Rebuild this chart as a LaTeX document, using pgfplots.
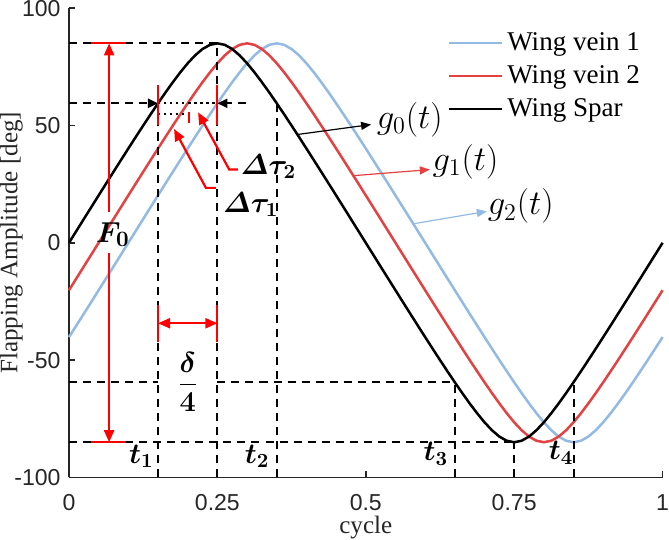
\documentclass[border=0pt]{standalone}
\usepackage{amsmath,bm}
\usepackage{fontspec}
\setmainfont{Liberation Serif}
\setsansfont{Liberation Sans}
\usepackage{pgfplots}
\pgfplotsset{compat=1.18}
\usepackage{pgfplotstable}
\usetikzlibrary{arrows.meta}
\definecolor{cblue}{RGB}{146,186,228}
\definecolor{cred}{RGB}{228,66,66}
\definecolor{ared}{RGB}{255,0,0}
\definecolor{axgray}{RGB}{38,38,38}
\pgfplotstableread{
x B R L
0 0 -20.21 -40.18
0.0125 5.06 -15.17 -35.23
0.025 10.12 -10.12 -30.24
0.0375 15.17 -5.06 -25.24
0.05 20.21 0 -20.21
0.0625 25.24 5.06 -15.17
0.075 30.24 10.12 -10.12
0.0875 35.23 15.17 -5.06
0.1 40.18 20.21 0
0.1125 45.10 25.24 5.06
0.125 49.96 30.24 10.12
0.1375 54.75 35.23 15.17
0.15 59.45 40.18 20.21
0.1625 64.04 45.10 25.24
0.175 68.45 49.96 30.24
0.1875 72.64 54.75 35.23
0.2 76.50 59.45 40.18
0.2125 79.88 64.04 45.10
0.225 82.59 68.45 49.96
0.2375 84.37 72.64 54.75
0.25 85.00 76.50 59.45
0.2625 84.37 79.88 64.04
0.275 82.59 82.59 68.45
0.2875 79.88 84.37 72.64
0.3 76.50 85.00 76.50
0.3125 72.64 84.37 79.88
0.325 68.45 82.59 82.59
0.3375 64.04 79.88 84.37
0.35 59.45 76.50 85.00
0.3625 54.75 72.64 84.37
0.375 49.96 68.45 82.59
0.3875 45.10 64.04 79.88
0.4 40.18 59.45 76.50
0.4125 35.23 54.75 72.64
0.425 30.24 49.96 68.45
0.4375 25.24 45.10 64.04
0.45 20.21 40.18 59.45
0.4625 15.17 35.23 54.75
0.475 10.12 30.24 49.96
0.4875 5.06 25.24 45.10
0.5 0 20.21 40.18
0.5125 -5.06 15.17 35.23
0.525 -10.12 10.12 30.24
0.5375 -15.17 5.06 25.24
0.55 -20.21 0 20.21
0.5625 -25.24 -5.06 15.17
0.575 -30.24 -10.12 10.12
0.5875 -35.23 -15.17 5.06
0.6 -40.18 -20.21 0
0.6125 -45.10 -25.24 -5.06
0.625 -49.96 -30.24 -10.12
0.6375 -54.75 -35.23 -15.17
0.65 -59.45 -40.18 -20.21
0.6625 -64.04 -45.10 -25.24
0.675 -68.45 -49.96 -30.24
0.6875 -72.64 -54.75 -35.23
0.7 -76.50 -59.45 -40.18
0.7125 -79.88 -64.04 -45.10
0.725 -82.59 -68.45 -49.96
0.7375 -84.37 -72.64 -54.75
0.75 -85.00 -76.50 -59.45
0.7625 -84.37 -79.88 -64.04
0.775 -82.59 -82.59 -68.45
0.7875 -79.88 -84.37 -72.64
0.8 -76.50 -85.00 -76.50
0.8125 -72.64 -84.37 -79.88
0.825 -68.45 -82.59 -82.59
0.8375 -64.04 -79.88 -84.37
0.85 -59.45 -76.50 -85.00
0.8625 -54.75 -72.64 -84.37
0.875 -49.96 -68.45 -82.59
0.8875 -45.10 -64.04 -79.88
0.9 -40.18 -59.45 -76.50
0.9125 -35.23 -54.75 -72.64
0.925 -30.24 -49.96 -68.45
0.9375 -25.24 -45.10 -64.04
0.95 -20.21 -40.18 -59.45
0.9625 -15.17 -35.23 -54.75
0.975 -10.12 -30.24 -49.96
0.9875 -5.06 -25.24 -45.10
1 0 -20.21 -40.18
}\data
\begin{document}
\begin{tikzpicture}[
  dsh/.style={black, line width=1pt, dash pattern=on 4pt off 3pt},
  dot/.style={black, line width=1pt, dash pattern=on 1.2pt off 1.8pt},
  rb/.style={ared, line width=1.1pt},
  lab/.style={font=\fontsize{14}{16}\selectfont, inner sep=0pt},
  gl/.style={font=\fontsize{16.5}{18}\selectfont, inner sep=0pt, anchor=west},
]
\begin{axis}[
  scale only axis, width=296pt, height=234pt,
  xmin=0, xmax=1, ymin=-100, ymax=100,
  axis x line*=bottom, axis y line*=left,
  axis line style={-, draw=axgray, line width=0.9pt},
  xtick={0,0.25,0.5,0.75,1}, xticklabels={0,0.25,0.5,0.75,1},
  ytick={-100,-50,0,50,100}, yticklabels={-100,-50,0,50,100},
  tick align=inside, major tick length=3pt,
  tick style={draw=axgray, line width=0.9pt},
  ticklabel style={font=\sffamily\fontsize{11.5}{13}\selectfont, text=axgray, inner sep=0pt},
  xticklabel style={yshift=-8.5pt},
  yticklabel style={xshift=-4pt},
  xlabel={cycle}, ylabel={Flapping Amplitude [deg]},
  label style={font=\fontsize{12.5}{14}\selectfont, text=axgray, inner sep=0pt},
  xlabel style={at={(axis description cs:0.5,-0.107)}, anchor=center},
  ylabel style={at={(axis description cs:-0.097,0.5)}, anchor=center},
  clip=false,
  legend style={draw=none, fill=none, at={(axis description cs:0.627,0.966)}, anchor=north west,
    font=\fontsize{13.5}{15}\selectfont, row sep=2pt},
  legend cell align=left,
  legend image code/.code={\draw[#1] (0pt,0pt) -- (26.5pt,0pt);},
]
\addplot[cblue, line width=1.25pt] table[x=x, y=L]{\data};
\addlegendentry{Wing vein 1}
\addplot[cred, line width=1.25pt] table[x=x, y=R]{\data};
\addlegendentry{Wing vein 2}
\addplot[black, line width=1.25pt] table[x=x, y=B]{\data};
\addlegendentry{Wing Spar}

% dashed guides
\draw[dsh] (axis cs:0,85) -- (axis cs:0.25,85);
\draw[dsh] (axis cs:0.25,-100) -- (axis cs:0.25,85);
\draw[dsh] (axis cs:0.15,-100) -- (axis cs:0.15,59.45);
\draw[dsh] (axis cs:0.35,-100) -- (axis cs:0.35,59.45);
\draw[dsh] (axis cs:0.65,-100) -- (axis cs:0.65,-59.45);
\draw[dsh] (axis cs:0.75,-100) -- (axis cs:0.75,-85);
\draw[dsh] (axis cs:0.85,-100) -- (axis cs:0.85,-59.45);
\draw[dsh] (axis cs:0,-59.45) -- (axis cs:0.15,-59.45);
\draw[dsh] (axis cs:0.25,-59.45) -- (axis cs:0.65,-59.45);
\draw[dsh] (axis cs:0,-85) -- (axis cs:0.75,-85);
\draw[dsh, -{Triangle[length=5pt,width=4.5pt]}] (axis cs:0,59.45) -- (axis cs:0.15,59.45);
\draw[dsh, -{Triangle[length=5pt,width=4.5pt]}] (axis cs:0.298,59.45) -- (axis cs:0.25,59.45);
\draw[dot] (axis cs:0.15,59.45) -- (axis cs:0.25,59.45);
\draw[dot] (axis cs:0.15,54.7) -- (axis cs:0.2027,54.7);

% red bars
\draw[rb] (axis cs:0.15,67.1) -- (axis cs:0.15,50.4);
\draw[rb] (axis cs:0.25,67.1) -- (axis cs:0.25,50.4);
\draw[rb] (axis cs:0.2027,55.6) -- (axis cs:0.2027,50.9);

% delta tau arrows
\draw[rb, -{Triangle[length=6pt,width=5pt]}] (axis cs:0.2846,31.2) -- (axis cs:0.270,31.2) -- (axis cs:0.2175,55.6);
\draw[rb, -{Triangle[length=6pt,width=5pt]}] (axis cs:0.2476,23.4) -- (axis cs:0.2307,23.4) -- (axis cs:0.177,48.5);
\node[lab, anchor=west] at (axis cs:0.289,32.6) {$\boldsymbol{\varDelta\tau_2}$};
\node[lab, anchor=west] at (axis cs:0.259,16.2) {$\boldsymbol{\varDelta\tau_1}$};

% F0 arrow
\draw[rb] (axis cs:0.0365,85) -- (axis cs:0.0956,85);
\draw[rb] (axis cs:0.0365,-85) -- (axis cs:0.0956,-85);
\draw[rb, -{Triangle[length=6pt,width=5pt]}] (axis cs:0.0676,13) -- (axis cs:0.0676,85);
\draw[rb, -{Triangle[length=6pt,width=5pt]}] (axis cs:0.0676,-4.3) -- (axis cs:0.0676,-85);
\node[lab, font=\fontsize{15}{17}\selectfont] at (axis cs:0.074,3.5) {$\boldsymbol{F_0}$};

% delta/4
\draw[rb] (axis cs:0.15,-26.5) -- (axis cs:0.15,-42.2);
\draw[rb] (axis cs:0.25,-26.5) -- (axis cs:0.25,-42.2);
\draw[rb, {Triangle[length=6pt,width=5pt]}-{Triangle[length=6pt,width=5pt]}] (axis cs:0.15,-34.3) -- (axis cs:0.25,-34.3);
\node[lab] at (axis cs:0.2,-59.2) {$\dfrac{\boldsymbol{\delta}}{\boldsymbol{4}}$};

% t labels
\node[lab] at (axis cs:0.122,-91) {$\boldsymbol{t_1}$};
\node[lab] at (axis cs:0.317,-91) {$\boldsymbol{t_2}$};
\node[lab] at (axis cs:0.618,-90) {$\boldsymbol{t_3}$};
\node[lab] at (axis cs:0.829,-89.5) {$\boldsymbol{t_4}$};

% g labels
\draw[black, line width=0.6pt, -{Triangle[length=5pt,width=4pt]}] (axis cs:0.386,46.2) -- (axis cs:0.509,50.4);
\node[gl] at (axis cs:0.518,52.6) {$g_0(t)$};
\draw[cred, line width=0.6pt, -{Triangle[length=5pt,width=4pt]}] (axis cs:0.479,28.6) -- (axis cs:0.608,31.2);
\node[gl] at (axis cs:0.612,34.6) {$g_1(t)$};
\draw[cblue, line width=0.6pt, -{Triangle[length=5pt,width=4pt]}] (axis cs:0.58,8.1) -- (axis cs:0.704,13.4);
\node[gl] at (axis cs:0.705,15.6) {$g_2(t)$};
\end{axis}
\end{tikzpicture}
\end{document}
